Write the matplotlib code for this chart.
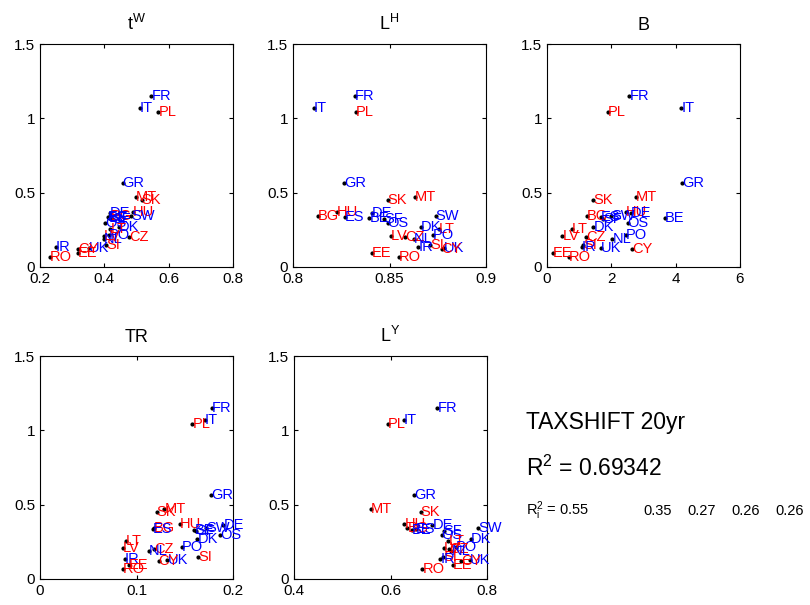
import numpy as np
import matplotlib
matplotlib.use('Agg')
import matplotlib.pyplot as plt

plt.rcParams['font.family'] = ['Liberation Sans', 'DejaVu Sans']
plt.rcParams['mathtext.default'] = 'regular'

# country codes, shared y value (response) and colour group
countries = ['FR', 'IT', 'PL', 'GR', 'MT', 'SK', 'HU', 'DE', 'SW', 'BG', 'ES', 'BE', 'SF',
             'OS', 'DK', 'LT', 'PO', 'LV', 'CZ', 'NL', 'SI', 'IR', 'UK', 'CY', 'EE', 'RO']
y_vals = [1.15, 1.07, 1.04, 0.564, 0.47, 0.45, 0.368, 0.36, 0.345, 0.341, 0.336, 0.33, 0.323,
          0.295, 0.266, 0.257, 0.216, 0.207, 0.200, 0.190, 0.145, 0.132, 0.125, 0.118, 0.097, 0.066]
old_member = ['FR', 'IT', 'GR', 'DE', 'SW', 'ES', 'BE', 'SF', 'OS', 'DK', 'PO', 'NL', 'IR', 'UK']

# regressors
tW = [0.546, 0.510, 0.568, 0.457, 0.499, 0.516, 0.489, 0.417, 0.484, 0.419, 0.410, 0.414, 0.425,
      0.403, 0.445, 0.419, 0.414, 0.398, 0.476, 0.398, 0.406, 0.250, 0.351, 0.318, 0.317, 0.231]
LH = [0.8321, 0.8109, 0.8325, 0.8264, 0.863, 0.8491, 0.8226, 0.841, 0.874, 0.813, 0.8269, 0.8396, 0.8474,
      0.849, 0.8663, 0.8755, 0.8724, 0.8507, 0.858, 0.8625, 0.871, 0.865, 0.878, 0.877, 0.8408, 0.855]
B = [2.56, 4.17, 1.90, 4.20, 2.77, 1.44, 2.46, 2.60, 2.00, 1.25, 1.67, 3.66, 1.75,
     2.51, 1.44, 0.78, 2.46, 0.48, 1.21, 2.03, 1.13, 1.08, 1.69, 2.65, 0.18, 0.67]
TR = [0.178, 0.171, 0.158, 0.177, 0.129, 0.121, 0.145, 0.190, 0.172, 0.118, 0.117, 0.160, 0.162,
      0.187, 0.163, 0.089, 0.147, 0.086, 0.118, 0.113, 0.164, 0.088, 0.132, 0.123, 0.092, 0.086]
LY = [0.697, 0.628, 0.594, 0.649, 0.560, 0.6625, 0.629, 0.687, 0.782, 0.635, 0.652, 0.645, 0.710,
      0.706, 0.767, 0.720, 0.735, 0.711, 0.722, 0.726, 0.709, 0.703, 0.765, 0.746, 0.730, 0.666]

titles = ['$t^W$', '$L^H$', 'B', 'TR', '$L^Y$']
xdata = [tW, LH, B, TR, LY]
xlims = [(0.2, 0.8), (0.8, 0.9), (0, 6), (0, 0.2), (0.4, 0.8)]
xticks = [[0.2, 0.4, 0.6, 0.8], [0.8, 0.85, 0.9], [0, 2, 4, 6], [0, 0.1, 0.2], [0.4, 0.6, 0.8]]
xticklabels = [['0.2', '0.4', '0.6', '0.8'], ['0.8', '0.85', '0.9'], ['0', '2', '4', '6'],
               ['0', '0.1', '0.2'], ['0.4', '0.6', '0.8']]

model_name = 'TAXSHIFT 20yr'
r2_total = 0.69342
r2_each = [0.55, 0.35, 0.27, 0.26, 0.26]

fig = plt.figure(figsize=(8.1, 6.05), dpi=100)
W, H = 810, 605
boxes = [(40, 44), (293, 44), (547, 44), (40, 356), (294, 356)]
aw, ah = 193, 223

for i in range(5):
    left, top = boxes[i]
    ax = fig.add_axes([left / W, 1 - (top + ah) / H, aw / W, ah / H])
    xs = xdata[i]
    ax.plot(xs, y_vals, '.', color='k', markersize=4)
    for c, xv, yv in zip(countries, xs, y_vals):
        col = 'blue' if c in old_member else 'red'
        ax.text(xv, yv, c, color=col, fontsize=10.5, ha='left', va='center')
    ax.set_xlim(*xlims[i])
    ax.set_ylim(0, 1.5)
    ax.set_xticks(xticks[i])
    ax.set_xticklabels(xticklabels[i])
    ax.set_yticks([0, 0.5, 1, 1.5])
    ax.set_yticklabels(['0', '0.5', '1', '1.5'])
    ax.tick_params(direction='in', top=True, right=True, labelsize=11, length=3)
    ax.set_title(titles[i], fontsize=13, pad=10)

fig.text(526 / W, 1 - 423 / H, model_name, fontsize=16.5, ha='left', va='center')
fig.text(526 / W, 1 - 468 / H, '$R^2$ = %.5f' % r2_total, fontsize=16.5, ha='left', va='center')
fig.text(526 / W, 1 - 511 / H, '$R_i^2$ = %.2f' % r2_each[0], fontsize=10.5, ha='left', va='center')
for k, v in enumerate(r2_each[1:]):
    fig.text((643 + 44 * k) / W, 1 - 511 / H, '%.2f' % v, fontsize=10.5, ha='left', va='center')

fig.savefig('out.png', dpi=100)
